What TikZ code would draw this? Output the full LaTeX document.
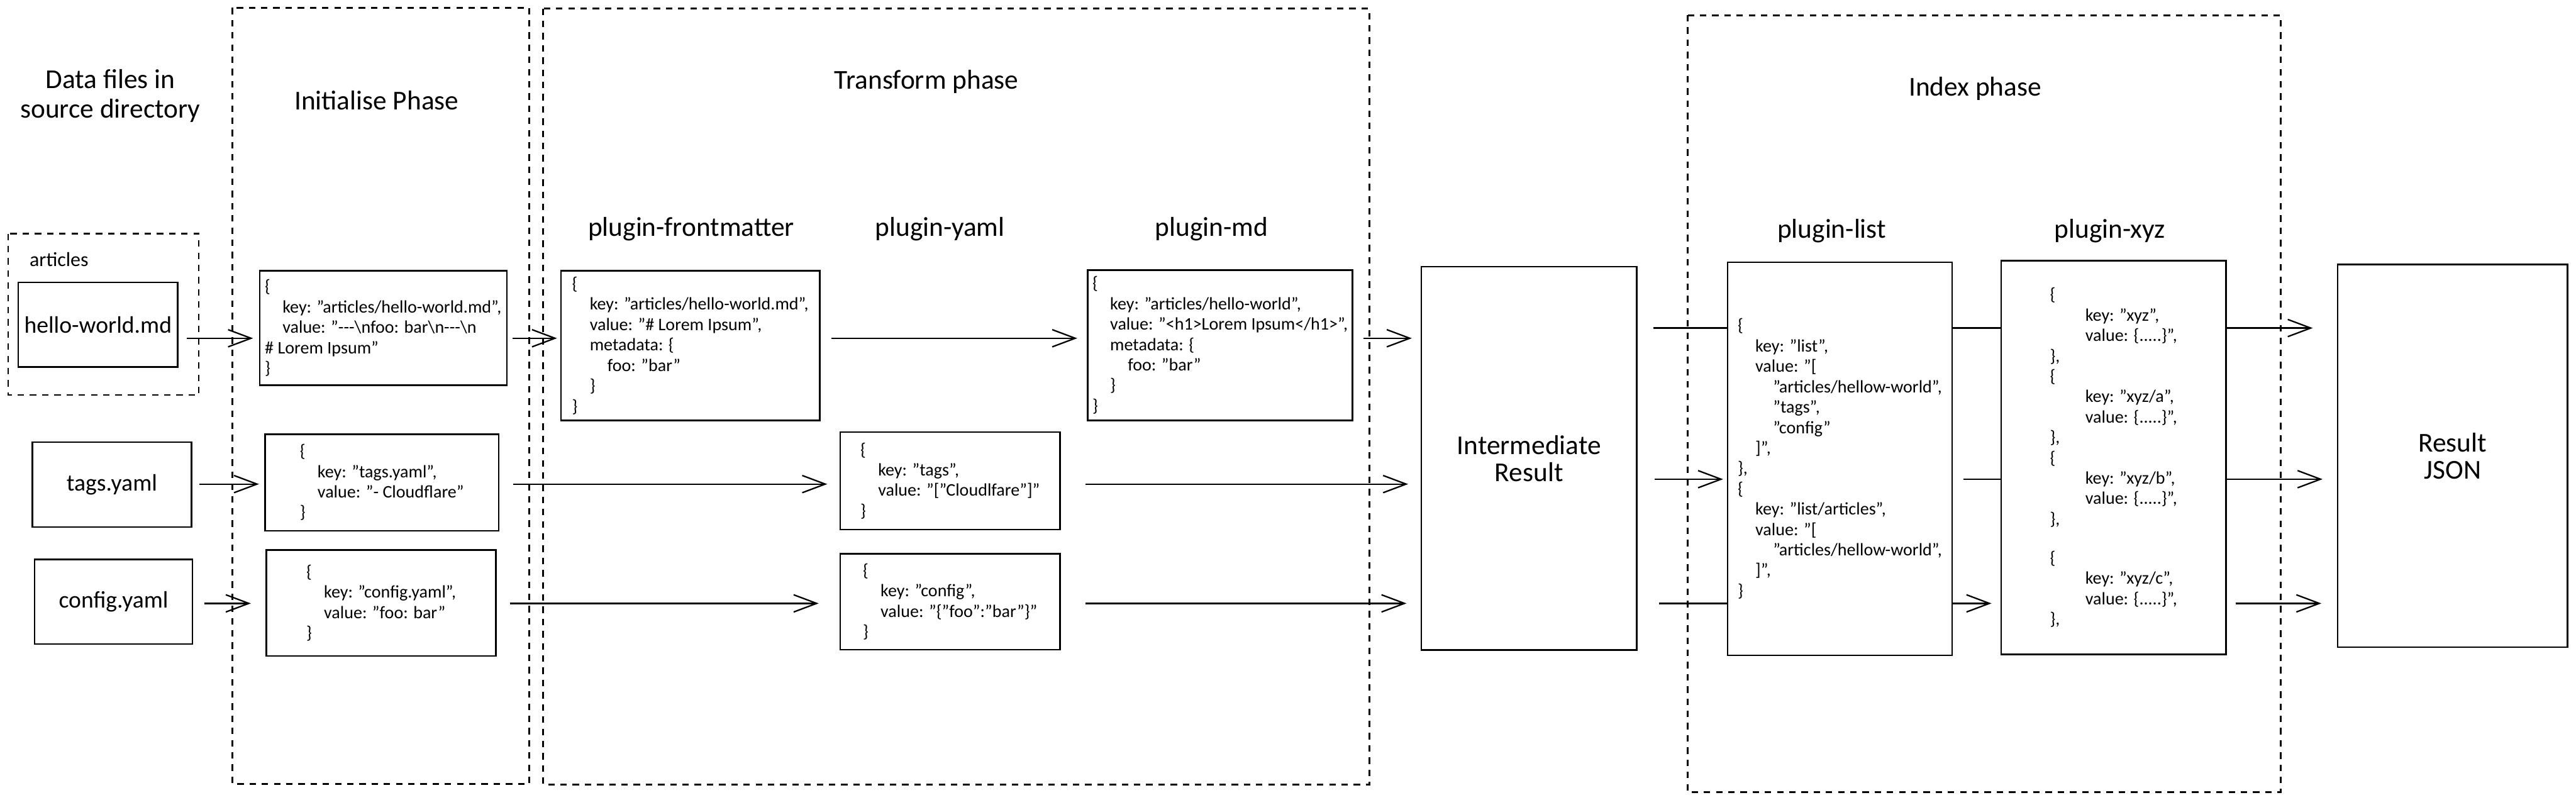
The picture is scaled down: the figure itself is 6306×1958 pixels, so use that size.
\documentclass[tikz,border=0pt]{standalone}
\usepackage{fontspec}
\setmainfont{Carlito}
\usetikzlibrary{arrows.meta}

\newcommand\codeind{\hspace*{1em}}

\begin{document}
\begin{tikzpicture}[x=0.1mm, y=-0.1mm,
  box/.style={draw, line width=1.1pt, inner sep=0pt, align=center, font=\fontsize{16.5}{18}\selectfont},
  code/.style={draw, line width=1.1pt, inner sep=0pt, align=left, font=\fontsize{12.3}{14.2}\selectfont},
  big/.style={draw, line width=1.1pt, inner sep=0pt, align=center, font=\fontsize{19}{19}\selectfont},
  title/.style={align=center, font=\fontsize{19}{20.8}\selectfont},
  phase/.style={line width=1.3pt, dash pattern=on 4.5pt off 4pt},
  arr/.style={line width=1pt, -{Straight Barb[length=16pt, width=12pt]}},
  link/.style={line width=1pt}]
\useasboundingbox (0,0) rectangle (6306,1958);

% phases
\draw[phase] (569,19) rectangle (1296,1919);
\draw[phase] (1330,21) rectangle (3352,1921);
\draw[phase] (4131,37) rectangle (5583,1939);
\draw[phase, line width=1pt] (20,572) rectangle (487,967);

\node[title] (src) at (270,235) {Data files in\\source directory};
\node[title] (init) at (922,245) {Initialise Phase};
\node[title] (trans) at (2268,200) {Transform phase};
\node[title] (index) at (4835,217) {Index phase};
\node[title] (pfm) at (1692,561) {plugin-frontmatter};
\node[title] (pyaml) at (2301,561) {plugin-yaml};
\node[title] (pmd) at (2966,561) {plugin-md};
\node[title] (plist) at (4484,565) {plugin-list};
\node[title] (pxyz) at (5165,565) {plugin-xyz};
\node[anchor=west, font=\fontsize{14}{14}\selectfont] (artlbl) at (60,635) {articles};

% source files
\node[box, minimum width=39mm, minimum height=20.7mm] (hello) at (240,795) {hello-world.md};
\node[box, minimum width=38.9mm, minimum height=20.8mm] (tags) at (274,1186) {tags.yaml};
\node[box, minimum width=38.6mm, minimum height=20.7mm] (config) at (278,1473) {config.yaml};

% initialise
\node[code, minimum width=60.5mm, minimum height=28mm] (initmd) at (938,803)
  {\{\\ \codeind key: "articles/hello-world.md",\\ \codeind value: "{-}{-}{-}\textbackslash nfoo: bar\textbackslash n{-}{-}{-}\textbackslash n\\ \# Lorem Ipsum"\\ \}};
\node[code, minimum width=57.2mm, minimum height=23.6mm] (inittags) at (935,1181)
  {\{\\ \codeind key: "tags.yaml",\\ \codeind value: "- Cloudflare"\\ \}};
\node[code, minimum width=56.2mm, minimum height=25.9mm] (initcfg) at (933,1476)
  {\{\\ \codeind key: "config.yaml",\\ \codeind value: "foo: bar"\\ \}};

% transform
\node[code, minimum width=63.3mm, minimum height=36.7mm] (fm) at (1690,846)
  {\{\\ \codeind key: "articles/hello-world.md",\\ \codeind value: "\# Lorem Ipsum",\\ \codeind metadata: \{\\ \codeind\codeind foo: "bar"\\ \codeind\}\\ \}};
\node[code, minimum width=64.8mm, minimum height=36.8mm] (md) at (2987,845)
  {\{\\ \codeind key: "articles/hello-world",\\ \codeind value: "<h1>Lorem Ipsum</h1>",\\ \codeind metadata: \{\\ \codeind\codeind foo: "bar"\\ \codeind\}\\ \}};
\node[code, minimum width=53.8mm, minimum height=23.8mm] (yamltags) at (2326,1177)
  {\{\\ \codeind key: "tags",\\ \codeind value: "["Cloudlfare"]"\\ \}};
\node[code, minimum width=53.8mm, minimum height=23.5mm] (yamlcfg) at (2326,1473)
  {\{\\ \codeind key: "config",\\ \codeind value: "\{"foo":"bar"\}"\\ \}};

\node[big, minimum width=52.8mm, minimum height=93.8mm] (interm) at (3743,1122) {Intermediate\\Result};

% index
\node[code, minimum width=55mm, minimum height=96.2mm] (list) at (4504,1123)
  {\{\\ \codeind key: "list",\\ \codeind value: "[\\ \codeind\codeind "articles/hellow-world",\\ \codeind\codeind "tags",\\ \codeind\codeind "config"\\ \codeind]",\\ \},\\ \{\\ \codeind key: "list/articles",\\ \codeind value: "[\\ \codeind\codeind "articles/hellow-world",\\ \codeind]",\\ \}};
\node[code, minimum width=55mm, minimum height=96.4mm] (xyz) at (5174,1120)
  {\{\\ \codeind\codeind key: "xyz",\\ \codeind\codeind value: \{.....\}",\\ \},\\ \{\\ \codeind\codeind key: "xyz/a",\\ \codeind\codeind value: \{.....\}",\\ \},\\ \{\\ \codeind\codeind key: "xyz/b",\\ \codeind\codeind value: \{.....\}",\\ \},\\[13pt] \{\\ \codeind\codeind key: "xyz/c",\\ \codeind\codeind value: \{.....\}",\\ \},};

\node[big, minimum width=56.3mm, minimum height=93.7mm] (result) at (6004,1116) {Result\\JSON};

% rows
\coordinate (rtop) at (0,828);
\coordinate (rmid) at (0,1185);
\coordinate (rbot) at (0,1477);
\coordinate (itop) at (0,803);
\coordinate (imid) at (0,1173);

\draw[arr, shorten <=2mm, shorten >=1.4mm] (hello.east |- rtop) -- (initmd.west |- rtop);
\draw[arr, shorten <=1.3mm, shorten >=0.8mm] (initmd.east |- rtop) -- (fm.west |- rtop);
\draw[arr, shorten <=2.7mm, shorten >=2.4mm] (fm.east |- rtop) -- (md.west |- rtop);
\draw[arr, shorten <=2.5mm, shorten >=2.1mm] (md.east |- rtop) -- (interm.west |- rtop);

\draw[arr, shorten <=1.8mm, shorten >=1.3mm] (tags.east |- rmid) -- (inittags.west |- rmid);
\draw[arr, shorten <=3.3mm, shorten >=3mm] (inittags.east |- rmid) -- (yamltags.west |- rmid);
\draw[arr, shorten <=6mm, shorten >=3mm] (yamltags.east |- rmid) -- (interm.west |- rmid);

\draw[arr, shorten <=2.7mm, shorten >=3.6mm] (config.east |- rbot) -- (initcfg.west |- rbot);
\draw[arr, shorten <=3.2mm, shorten >=5.1mm] (initcfg.east |- rbot) -- (yamlcfg.west |- rbot);
\draw[arr, shorten <=6mm, shorten >=3.4mm] (yamlcfg.east |- rbot) -- (interm.west |- rbot);

\draw[link, shorten <=3.8mm] (interm.east |- itop) -- (list.west |- itop);
\draw[arr, shorten <=4.2mm, shorten >=0.9mm] (interm.east |- imid) -- (list.west |- imid);
\draw[link, shorten <=5.3mm] (interm.east |- rbot) -- (list.west |- rbot);

\draw[link] (list.east |- itop) -- (xyz.west |- itop);
\draw[link, shorten <=2.6mm] (list.east |- imid) -- (xyz.west |- imid);
\draw[arr, shorten >=2.2mm] (list.east |- rbot) -- (xyz.west |- rbot);

\draw[arr, shorten >=5.9mm] (xyz.east |- itop) -- (result.west |- itop);
\draw[arr, shorten >=3.5mm] (xyz.east |- imid) -- (result.west |- imid);
\draw[arr, shorten <=2.2mm, shorten >=3.8mm] (xyz.east |- rbot) -- (result.west |- rbot);

\end{tikzpicture}
\end{document}
